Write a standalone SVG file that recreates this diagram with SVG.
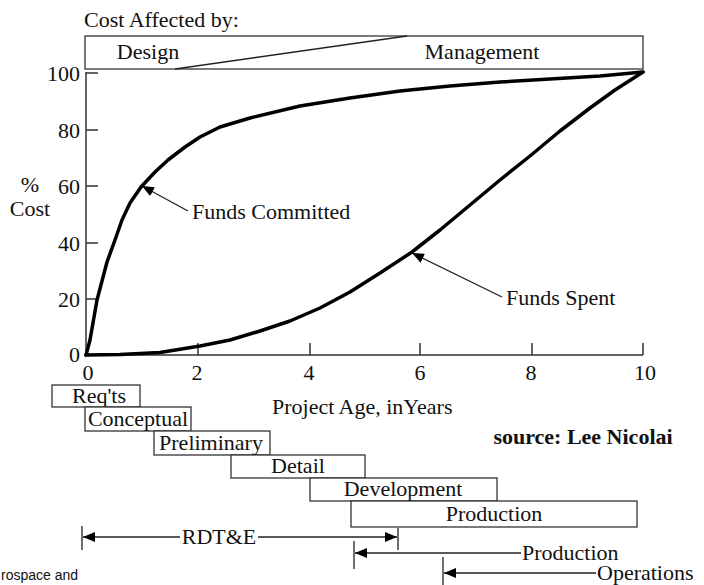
<svg xmlns="http://www.w3.org/2000/svg" width="704" height="585" viewBox="0 0 704 585">
<style>
text{font-family:"Liberation Serif","Times New Roman",serif;font-size:22px;fill:#111}
.ax{stroke:#333;stroke-width:1.5;fill:none}
.box{stroke:#333;stroke-width:1.3;fill:#fff}
.curve{stroke:#000;stroke-width:3.5;fill:none;stroke-linejoin:round;stroke-linecap:round}
.ln{stroke:#222;stroke-width:1.3;fill:none}
.mid{text-anchor:middle}
.end{text-anchor:end}
</style>
<defs>
<marker id="ah" viewBox="0 0 12 10" refX="12" refY="5" markerWidth="12" markerHeight="10" markerUnits="userSpaceOnUse" orient="auto">
<path d="M0,0 L12,5 L0,10 z" fill="#000"/>
</marker>
</defs>
<rect width="704" height="585" fill="#fff"/>

<g id="header">
<text x="84" y="27" font-size="21.5">Cost Affected by:</text>
<rect class="box" x="85" y="36" width="558" height="33"/>
<line class="ln" x1="175" y1="69" x2="407" y2="36"/>
<text x="148" y="59" class="mid" font-size="21">Design</text>
<text x="482" y="59" class="mid" font-size="21">Management</text>
</g>

<g id="axes">
<path class="ax" d="M86,72 V355 H643"/>
<path class="ax" d="M86,73 H98 M86,130 H98 M86,186 H98 M86,243 H98 M86,299 H98"/>
<path class="ax" d="M198,355 V343 M310,355 V343 M420,355 V343 M532,355 V343 M643,355 V343"/>
<text x="80" y="81" class="end">100</text>
<text x="80" y="138" class="end">80</text>
<text x="80" y="194" class="end">60</text>
<text x="80" y="251" class="end">40</text>
<text x="80" y="307" class="end">20</text>
<text x="80" y="362" class="end">0</text>
<text x="88" y="380" class="mid">0</text>
<text x="197" y="380" class="mid">2</text>
<text x="309" y="380" class="mid">4</text>
<text x="420" y="380" class="mid">6</text>
<text x="531" y="380" class="mid">8</text>
<text x="645" y="380" class="mid">10</text>
<text x="30" y="192" class="mid" font-size="21">%</text>
<text x="30" y="216" class="mid" font-size="21">Cost</text>
<text x="272" y="414" font-size="21">Project Age, inYears</text>
</g>

<g id="funds-committed">
<path class="curve" d="M86,355 L90,340 L97,300 L107,262 L115,240 L122,220 L130,203 L141,187 L155,172 L168,160 L185,147 L200,137 L220,127 L250,118 L300,106 L350,98 L400,91 L450,86 L500,82 L550,79 L600,76 L643,72"/>
<text x="192" y="219">Funds Committed</text>
</g>

<g id="funds-spent">
<path class="curve" d="M86,355 L120,354.5 L160,352.5 L200,346 L230,340 L260,331 L290,321 L320,308 L350,292 L380,273 L412,252 L440,230 L470,205 L500,180 L530,156 L560,131 L590,108 L615,90 L643,72"/>
<text x="506" y="305">Funds Spent</text>
</g>

<g id="connectors">
<line class="ln" x1="188" y1="211" x2="142" y2="186" marker-end="url(#ah)"/>
<line class="ln" x1="502" y1="297" x2="412" y2="253" marker-end="url(#ah)"/>
</g>

<g id="phases">
<g id="reqts"><rect class="box" x="52" y="385" width="88" height="22"/><text x="99" y="403" class="mid">Req'ts</text></g>
<g id="conceptual"><rect class="box" x="85" y="407" width="106" height="24"/><text x="138" y="426" class="mid">Conceptual</text></g>
<g id="preliminary"><rect class="box" x="154" y="431" width="116" height="24"/><text x="211" y="450" class="mid">Preliminary</text></g>
<g id="detail"><rect class="box" x="231" y="455" width="134" height="23"/><text x="298" y="473" class="mid">Detail</text></g>
<g id="development"><rect class="box" x="310" y="478" width="187" height="23"/><text x="403" y="496" class="mid">Development</text></g>
<g id="production-bar"><rect class="box" x="351" y="501" width="286" height="26"/><text x="494" y="521" class="mid">Production</text></g>
</g>

<text x="583" y="444" class="mid" font-weight="bold" font-size="23">source: Lee Nicolai</text>

<g id="spans">
<g id="rdte">
<path class="ln" d="M82,526 V550 M398,528 V550"/>
<line class="ln" x1="180" y1="537" x2="83" y2="537" marker-end="url(#ah)"/>
<line class="ln" x1="258" y1="537" x2="397" y2="537" marker-end="url(#ah)"/>
<text x="219" y="544" class="mid">RDT&amp;E</text>
</g>
<g id="production-span">
<path class="ln" d="M354,541 V569"/>
<line class="ln" x1="521" y1="553" x2="355" y2="553" marker-end="url(#ah)"/>
<text x="522" y="560">Production</text>
</g>
<g id="operations-span">
<path class="ln" d="M443,557 V585"/>
<line class="ln" x1="596" y1="573" x2="444" y2="573" marker-end="url(#ah)"/>
<text x="597" y="580">Operations</text>
</g>
</g>

<text x="1" y="580" style="font-family:'Liberation Sans',Arial,sans-serif;font-size:14px">rospace and</text>
</svg>
